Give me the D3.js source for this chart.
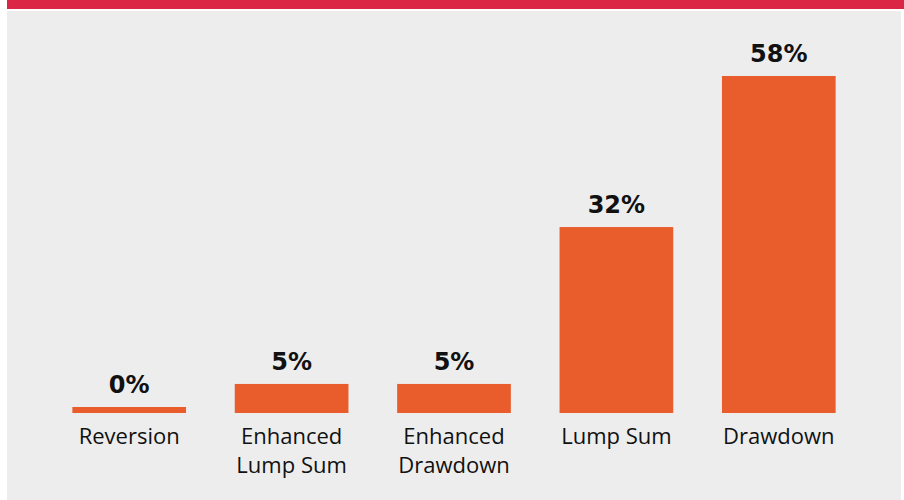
<!DOCTYPE html>
<html>
<head>
<meta charset="utf-8">
<script src="https://cdn.jsdelivr.net/npm/d3@7"></script>
<style>
  html, body { margin: 0; padding: 0; background: #fff; }
  svg { display: block; }
</style>
</head>
<body>
<div id="chart"></div>
<script>
// chart data
var categories = ["Reversion", "Enhanced\nLump Sum", "Enhanced\nDrawdown", "Lump Sum", "Drawdown"];
var values = [0, 5, 5, 32, 58];
var valueLabels = ["0%", "5%", "5%", "32%", "58%"];

var width = 904, height = 500;
var baseline = 413;

var svg = d3.select("#chart").append("svg")
  .attr("width", width)
  .attr("height", height);

// panel + top stripe
svg.append("rect")
  .attr("x", 7).attr("y", 11)
  .attr("width", 894).attr("height", height - 11)
  .attr("fill", "#ededed");
svg.append("rect")
  .attr("x", 7).attr("y", 0)
  .attr("width", 897).attr("height", 9)
  .attr("fill", "#dc2645");

var x = d3.scaleBand()
  .domain(categories)
  .range([48, 860])
  .paddingInner(0.3)
  .paddingOuter(0.15);

var y = d3.scaleLinear()
  .domain([0, 58])
  .range([baseline, 76]);

var minH = 6;

var g = svg.append("g");

g.selectAll("rect.bar")
  .data(values)
  .enter()
  .append("rect")
  .attr("class", "bar")
  .attr("x", function (d, i) { return x(categories[i]); })
  .attr("width", x.bandwidth())
  .attr("y", function (d) { return Math.min(y(d), baseline - minH); })
  .attr("height", function (d) { return Math.max(baseline - y(d), minH); })
  .attr("fill", "#e95c2b");

g.selectAll("text.val")
  .data(values)
  .enter()
  .append("text")
  .attr("class", "val")
  .attr("x", function (d, i) { return x(categories[i]) + x.bandwidth() / 2; })
  .attr("y", function (d) { return Math.min(y(d), baseline - minH) - 14; })
  .attr("text-anchor", "middle")
  .attr("font-family", "'DejaVu Sans', sans-serif")
  .attr("font-weight", "bold")
  .attr("font-size", 24)
  .attr("fill", "#111")
  .text(function (d, i) { return valueLabels[i]; });

var cat = g.selectAll("text.cat")
  .data(categories)
  .enter()
  .append("text")
  .attr("class", "cat")
  .attr("x", function (d) { return x(d) + x.bandwidth() / 2; })
  .attr("y", 444)
  .attr("text-anchor", "middle")
  .attr("font-family", "'Open Sans', sans-serif")
  .attr("font-size", 22)
  .attr("fill", "#111");

cat.selectAll("tspan")
  .data(function (d) { return d.split("\n"); })
  .enter()
  .append("tspan")
  .attr("x", function () { return d3.select(this.parentNode).attr("x"); })
  .attr("dy", function (d, i) { return i === 0 ? 0 : 29; })
  .text(function (d) { return d; });
</script>
</body>
</html>
